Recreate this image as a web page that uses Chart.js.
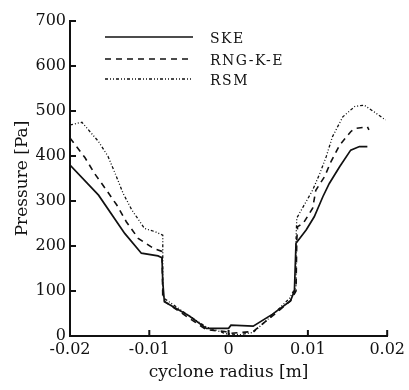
<!DOCTYPE html>
<html>
<head>
<meta charset="utf-8">
<script src="https://cdn.jsdelivr.net/npm/chart.js@4.4.1/dist/chart.umd.min.js"></script>
<style>
  html, body { margin: 0; padding: 0; background: #fff; }
  #wrap { width: 409px; height: 390px; }
</style>
</head>
<body>
<div id="wrap"><canvas id="chart"></canvas></div>
<script>
// series names
const seriesNames = ["SKE", "RNG-K-E", "RSM"];

// cyclone radius [m] and pressure [Pa]
const skeR = [-0.02, -0.0164, -0.0131, -0.0110, -0.0089, -0.0084, -0.0083, -0.0081, -0.0050, -0.0028, 0.0000, 0.0003, 0.0031, 0.0055, 0.0078, 0.0083, 0.0085, 0.0098, 0.0108, 0.0119, 0.0127, 0.0140, 0.0154, 0.0165, 0.0175];
const skeP = [380, 313, 228, 184, 178, 174, 120, 76, 45, 17, 17, 24, 22, 48, 78, 100, 206, 236, 265, 310, 339, 376, 413, 421, 421];

const rngR = [-0.02, -0.0181, -0.0169, -0.0154, -0.0141, -0.0129, -0.0114, -0.0095, -0.0084, -0.0083, -0.0080, -0.0050, -0.0028, -0.0005, 0.0003, 0.0031, 0.0055, 0.0078, 0.0085, 0.0086, 0.0087, 0.0094, 0.0106, 0.0110, 0.0121, 0.0129, 0.0140, 0.0154, 0.0159, 0.0175, 0.0177];
const rngP = [440, 396, 361, 324, 291, 254, 217, 195, 188, 85, 76, 40, 14, 10, 6, 10, 44, 78, 100, 213, 243, 250, 284, 324, 354, 387, 424, 454, 461, 465, 458];

const rsmR = [-0.02, -0.0185, -0.0164, -0.0152, -0.0143, -0.0133, -0.0122, -0.0106, -0.0093, -0.0083, -0.0083, -0.0080, -0.0050, -0.0028, -0.0003, 0.0015, 0.0031, 0.0055, 0.0077, 0.0085, 0.0085, 0.0086, 0.0094, 0.0106, 0.0115, 0.0123, 0.0131, 0.0144, 0.0159, 0.0171, 0.0186, 0.0198];
const rsmP = [469, 475, 432, 399, 361, 317, 280, 239, 232, 224, 90, 82, 45, 20, 5, 3, 8, 46, 84, 110, 213, 262, 287, 324, 361, 398, 443, 487, 510, 513, 495, 480];

const xTicks = [-0.02, -0.01, 0, 0.01, 0.02];
const yTicks = [0, 100, 200, 300, 400, 500, 600, 700];

const toPoints = (xs, ys) => xs.map((x, i) => ({ x: x, y: ys[i] }));

const serif = "'DejaVu Serif', serif";
const ink = "#111";

// inward tick marks on both axes
const innerTicks = {
  id: "innerTicks",
  afterDraw(chart) {
    const ctx = chart.ctx;
    const xs = chart.scales.x, ys = chart.scales.y;
    const area = chart.chartArea;
    ctx.save();
    ctx.strokeStyle = ink;
    ctx.lineWidth = 2;
    ctx.beginPath();
    xTicks.forEach(v => {
      const px = xs.getPixelForValue(v);
      ctx.moveTo(px, area.bottom);
      ctx.lineTo(px, area.bottom - 6);
    });
    yTicks.forEach(v => {
      const py = ys.getPixelForValue(v);
      ctx.moveTo(area.left, py);
      ctx.lineTo(area.left + 6, py);
    });
    ctx.stroke();
    ctx.restore();
  }
};

// legend drawn in the upper left of the plot
const lineLegend = {
  id: "lineLegend",
  afterDraw(chart) {
    const ctx = chart.ctx;
    const rows = [37, 59, 79];
    ctx.save();
    chart.data.datasets.forEach((ds, i) => {
      ctx.strokeStyle = ds.borderColor;
      ctx.lineWidth = ds.borderWidth;
      ctx.setLineDash(ds.borderDash || []);
      ctx.beginPath();
      ctx.moveTo(105, rows[i]);
      ctx.lineTo(193, rows[i]);
      ctx.stroke();
      ctx.setLineDash([]);
      ctx.fillStyle = ink;
      ctx.font = "14px " + serif;
      ctx.letterSpacing = "1.5px";
      ctx.textBaseline = "middle";
      ctx.fillText(ds.label, 210, rows[i] + 2);
    });
    ctx.restore();
  }
};

new Chart(document.getElementById("chart"), {
  type: "scatter",
  data: {
    datasets: [
      { label: seriesNames[0], data: toPoints(skeR, skeP), borderColor: ink, borderWidth: 1.7, borderDash: [] },
      { label: seriesNames[1], data: toPoints(rngR, rngP), borderColor: ink, borderWidth: 1.6, borderDash: [6, 5] },
      { label: seriesNames[2], data: toPoints(rsmR, rsmP), borderColor: ink, borderWidth: 1.3, borderDash: [3, 2, 1, 2, 1, 2] }
    ]
  },
  options: {
    responsive: true,
    maintainAspectRatio: false,
    animation: false,
    showLine: true,
    elements: { point: { radius: 0 }, line: { tension: 0 } },
    layout: { padding: { top: 21, right: 21, left: 0, bottom: 0 } },
    plugins: { legend: { display: false }, tooltip: { enabled: false } },
    scales: {
      x: {
        type: "linear",
        min: -0.02,
        max: 0.02,
        afterBuildTicks: s => { s.ticks = xTicks.map(v => ({ value: v })); },
        afterFit: s => { s.height = 54; },
        grid: { display: false, drawTicks: false },
        border: { display: true, color: ink, width: 2 },
        ticks: {
          color: ink,
          padding: 4,
          maxRotation: 0,
          font: { family: serif, size: 16 },
          callback: v => String(Math.round(v * 100) / 100)
        },
        title: {
          display: true,
          text: "cyclone radius [m]",
          color: ink,
          font: { family: serif, size: 17 },
          padding: { top: 0, bottom: 7 }
        }
      },
      y: {
        min: 0,
        max: 700,
        afterBuildTicks: s => { s.ticks = yTicks.map(v => ({ value: v })); },
        afterFit: s => { s.width = 70; },
        grid: { display: false, drawTicks: false },
        border: { display: true, color: ink, width: 2 },
        ticks: {
          color: ink,
          padding: 4,
          font: { family: serif, size: 16 },
          callback: v => String(v)
        },
        title: {
          display: true,
          text: "Pressure [Pa]",
          color: ink,
          font: { family: serif, size: 17 },
          padding: { top: 12, bottom: 0 }
        }
      }
    }
  },
  plugins: [innerTicks, lineLegend]
});
</script>
</body>
</html>
